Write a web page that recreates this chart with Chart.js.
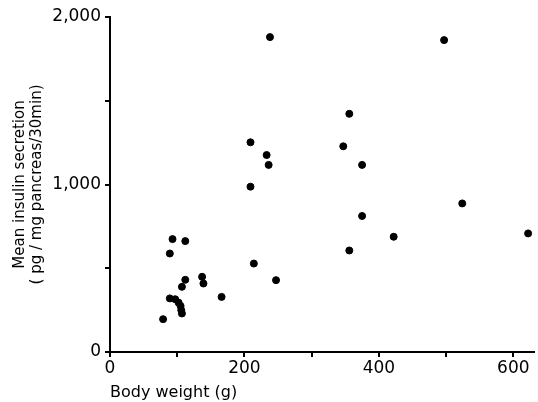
<!DOCTYPE html>
<html>
<head>
<meta charset="utf-8">
<script src="https://cdn.jsdelivr.net/npm/chart.js@4.4.0/dist/chart.umd.min.js"></script>
<style>
  html, body { margin: 0; padding: 0; background: #fff; }
  #wrap { width: 538px; height: 402px; }
</style>
</head>
<body>
<div id="wrap"><canvas id="insulinChart"></canvas></div>
<script>
// body weight (g)
var bodyWeight = [79, 89, 97, 102, 105, 106, 107, 89, 93, 112, 107, 112, 137, 139, 166, 214, 247,
	209, 233, 236, 209, 238, 356, 347, 375, 375, 422, 356, 497, 524, 622];
// mean insulin secretion (pg/mg pancreas/30min)
var insulinSecretion = [196, 320, 315, 295, 275, 250, 230, 588, 674, 662, 389, 431, 449, 409, 329, 528, 429,
	1252, 1176, 1117, 987, 1880, 1422, 1228, 1117, 812, 688, 606, 1862, 887, 708];
var xTicks = [0, 100, 200, 300, 400, 500, 600];
var xTickLabels = [0, 200, 400, 600];
var yTickLabels = [0, 1000, 2000];

function getPoints() {
	var points = [];
	bodyWeight.forEach(function(w, i) {
		points.push({ x: w, y: insulinSecretion[i] });
	});
	return points;
}

function fmt(v) {
	return v.toLocaleString('en-US');
}

var fontName = "'DejaVu Sans', sans-serif";

new Chart(document.getElementById('insulinChart'), {
	type: 'scatter',
	data: {
		datasets: [{
			data: getPoints(),
			backgroundColor: '#000',
			borderColor: '#000',
			pointRadius: 3.5,
			pointHoverRadius: 3.5
		}]
	},
	options: {
		responsive: true,
		maintainAspectRatio: false,
		animation: false,
		layout: { padding: { top: 17, right: 3, left: 0, bottom: 0 } },
		plugins: { legend: { display: false }, tooltip: { enabled: false } },
		scales: {
			x: {
				type: 'linear',
				min: 0,
				max: 630,
				border: { color: '#000', width: 2 },
				grid: { drawOnChartArea: false, color: '#000', tickLength: 5, lineWidth: 2 },
				afterBuildTicks: function(scale) {
					scale.ticks = xTicks.map(function(v) { return { value: v }; });
				},
				ticks: {
					color: '#000',
					padding: 1,
					maxRotation: 0,
					autoSkip: false,
					font: { family: fontName, size: 17 },
					callback: function(v) {
						return xTickLabels.indexOf(v) >= 0 ? String(v) : '';
					}
				},
				title: {
					display: true,
					text: 'Body weight (g)',
					align: 'start',
					color: '#000',
					padding: { top: 1, bottom: 0 },
					font: { family: fontName, size: 16 }
				},
				afterFit: function(scale) { scale.height = 50; }
			},
			y: {
				min: 0,
				max: 2000,
				border: { color: '#000', width: 2 },
				grid: { drawOnChartArea: false, color: '#000', tickLength: 5, lineWidth: 2 },
				ticks: {
					stepSize: 500,
					color: '#000',
					padding: 4,
					font: { family: fontName, size: 17 },
					callback: function(v) {
						return yTickLabels.indexOf(v) >= 0 ? fmt(v) : '';
					}
				},
				title: {
					display: true,
					text: ['Mean insulin secretion', '( pg / mg pancreas/30min)'],
					color: '#000',
					padding: { top: 12, bottom: 4 },
					font: { family: fontName, size: 15, lineHeight: 1.1 }
				},
				afterFit: function(scale) { scale.width = 110; }
			}
		}
	}
});
</script>
</body>
</html>
